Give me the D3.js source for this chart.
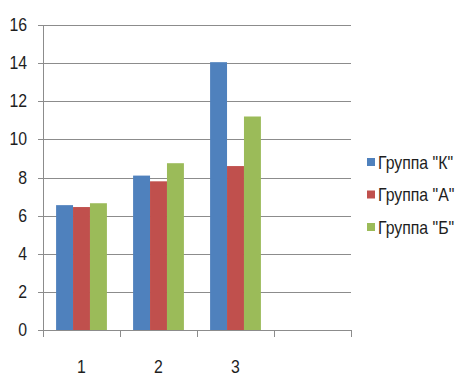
<!DOCTYPE html>
<html>
<head>
<meta charset="utf-8">
<script src="https://cdn.jsdelivr.net/npm/d3@7"></script>
<style>
  body { margin: 0; background: #fff; }
  text { font-family: "Liberation Sans", Arial, sans-serif; fill: #1e1e1e; }
</style>
</head>
<body>
<div id="chart"></div>
<script>
(function () {
    var width = 464,
        height = 388;

    // data
    var categories = ["1", "2", "3", ""];
    var seriesNames = ['Группа "К"', 'Группа "А"', 'Группа "Б"'];
    var groupK = [6.55, 8.1, 14.05];
    var groupA = [6.45, 7.8, 8.6];
    var groupB = [6.65, 8.75, 11.2];
    var yTicks = [0, 2, 4, 6, 8, 10, 12, 14, 16];
    var colors = ["#4f81bd", "#c0504d", "#9bbb59"];

    var series = [groupK, groupA, groupB];

    var svg = d3.select("#chart")
        .append("svg")
        .attr("width", width)
        .attr("height", height);

    var left = 43, right = 351, top = 25, bottom = 330;
    var squeeze = 0.88; // text in the picture is a narrow face

    var x = d3.scaleBand()
        .domain(categories.map(function (d, i) { return i; }))
        .range([left, right])
        .paddingInner(0)
        .paddingOuter(0);

    var y = d3.scaleLinear()
        .domain([0, 16])
        .range([bottom, top]);

    // gridlines
    svg.append("g")
        .selectAll("line")
        .data(yTicks)
        .enter().append("line")
        .attr("x1", left - 5)
        .attr("x2", right)
        .attr("y1", function (d) { return Math.round(y(d)) + 0.5; })
        .attr("y2", function (d) { return Math.round(y(d)) + 0.5; })
        .attr("stroke", "#8c8c8c")
        .attr("stroke-width", 1);

    // y axis labels
    svg.append("g")
        .selectAll("text")
        .data(yTicks)
        .enter().append("text")
        .attr("transform", function (d) {
            return "translate(" + (left - 16) + "," + (y(d) + 6) + ") scale(" + squeeze + ",1)";
        })
        .attr("text-anchor", "end")
        .style("font-size", "18px")
        .text(function (d) { return d; });

    // y axis line
    svg.append("line")
        .attr("x1", left + 0.5).attr("x2", left + 0.5)
        .attr("y1", top).attr("y2", bottom)
        .attr("stroke", "#8c8c8c");

    // x category ticks
    var bounds = categories.map(function (d, i) { return x(i); }).concat([right]);
    svg.append("g")
        .selectAll("line")
        .data(bounds)
        .enter().append("line")
        .attr("x1", function (d) { return Math.round(d) + 0.5; })
        .attr("x2", function (d) { return Math.round(d) + 0.5; })
        .attr("y1", bottom)
        .attr("y2", bottom + 7)
        .attr("stroke", "#8c8c8c");

    // bars
    var barW = x.bandwidth() * 0.22;
    var groupOffset = (x.bandwidth() - barW * 3) / 2;

    series.forEach(function (vals, s) {
        svg.append("g")
            .selectAll("rect")
            .data(vals)
            .enter().append("rect")
            .attr("x", function (d, i) { return x(i) + groupOffset + s * barW; })
            .attr("width", barW)
            .attr("y", function (d) { return y(d); })
            .attr("height", function (d) { return y(0) - y(d); })
            .attr("fill", colors[s]);
    });

    // redraw baseline over bars
    svg.append("line")
        .attr("x1", left - 5).attr("x2", right)
        .attr("y1", Math.round(y(0)) + 0.5).attr("y2", Math.round(y(0)) + 0.5)
        .attr("stroke", "#8c8c8c");

    // x labels
    svg.append("g")
        .selectAll("text")
        .data(categories)
        .enter().append("text")
        .attr("transform", function (d, i) {
            return "translate(" + (x(i) + x.bandwidth() / 2) + ",373) scale(" + squeeze + ",1)";
        })
        .attr("text-anchor", "middle")
        .style("font-size", "18px")
        .text(function (d) { return d; });

    // legend
    var legend = svg.append("g")
        .selectAll("g")
        .data(seriesNames)
        .enter().append("g")
        .attr("transform", function (d, i) { return "translate(367," + (162 + i * 32.5) + ")"; });

    legend.append("rect")
        .attr("x", 0)
        .attr("y", -4)
        .attr("width", 8)
        .attr("height", 8)
        .attr("fill", function (d, i) { return colors[i]; });

    legend.append("text")
        .attr("transform", "translate(11,6.5) scale(" + squeeze + ",1)")
        .style("font-size", "18px")
        .text(function (d) { return d; });
})();
</script>
</body>
</html>
